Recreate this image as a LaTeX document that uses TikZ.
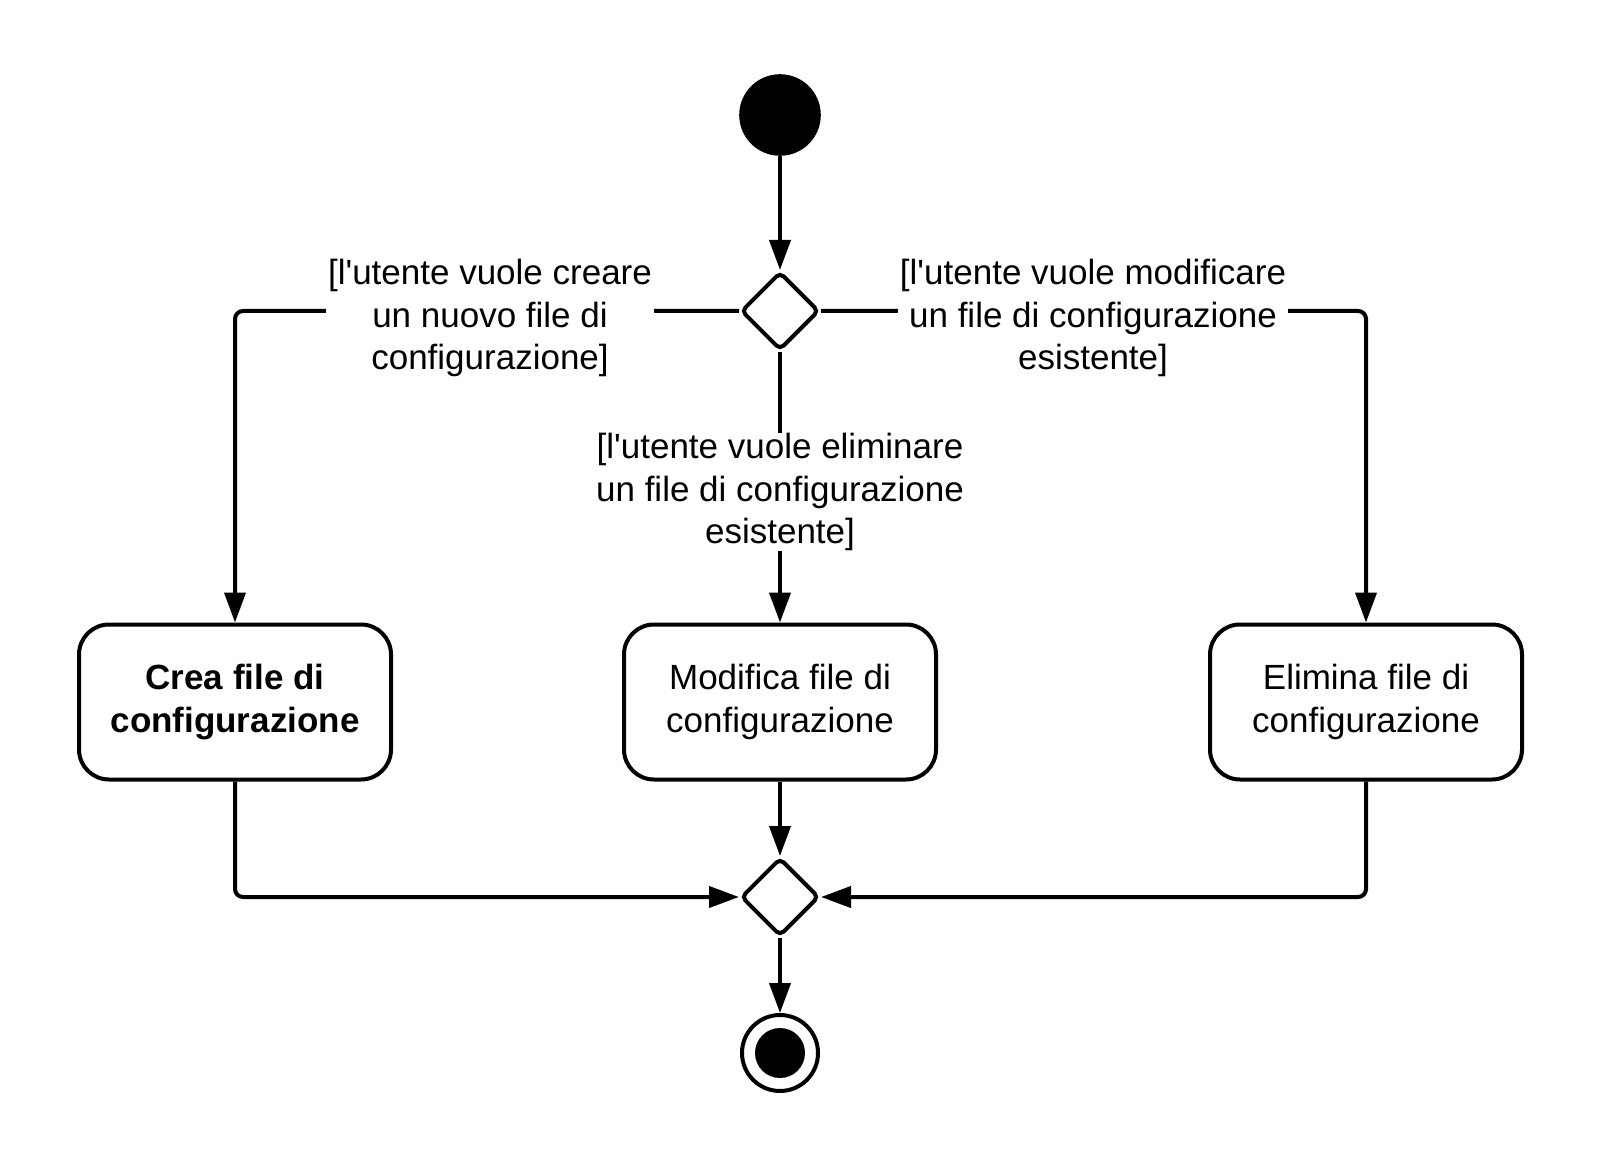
\documentclass[tikz,border=0pt]{standalone}
\usepackage{fontspec}
\setmainfont{Liberation Sans}
\usetikzlibrary{shapes.geometric}
\usetikzlibrary{positioning}
\usetikzlibrary{arrows.meta}

\begin{document}
\begin{tikzpicture}[x=0.5pt, y=-0.5pt]
	\tikzset{
		every node/.append style={font=\fontsize{17.5}{21.4}\selectfont},
		actnode/.style={rectangle, rounded corners=15pt, draw=black, line width=2pt, minimum width=156pt, minimum height=77.5pt, align=center},
		decnode/.style={diamond, rounded corners=2.5pt, draw=black, line width=2pt, fill=white, minimum size=39pt, inner sep=0pt},
		startnode/.style={circle, fill=black, minimum size=40.8pt, inner sep=0pt},
		endnode/.style={circle, draw=black, line width=2pt, minimum size=38pt, inner sep=0pt},
		endcore/.style={circle, fill=black, minimum size=25pt, inner sep=0pt},
		guardnode/.style={fill=white, align=center, inner xsep=1pt, inner ysep=0pt},
		flow/.style={-{Triangle[length=15pt, width=10.5pt]}, line width=2pt, rounded corners=4pt},
	}
	\useasboundingbox (0,0) rectangle (1600,1171);

	\node[startnode] (start) at (780,115) {};
	\node[decnode] (split) at (780,311) {};

	\node[actnode] (crea) at (235,702) {\textbf{Crea file di}\\\textbf{configurazione}};
	\node[actnode] (modifica) at (780,702) {Modifica file di\\configurazione};
	\node[actnode] (elimina) at (1366,702) {Elimina file di\\configurazione};

	\node[decnode] (merge) at (780,897) {};
	\node[endnode] (stop) at (780,1053) {};
	\node[endcore] (stopcore) at (stop) {};

	\draw[flow] (start) -- (split);
	\draw[flow] (split.west) -| (crea.north);
	\draw[flow] (split.south) -- (modifica.north);
	\draw[flow] (split.east) -| (elimina.north);

	\draw[flow] (crea.south) |- (merge.west);
	\draw[flow] (modifica.south) -- (merge.north);
	\draw[flow] (elimina.south) |- (merge.east);
	\draw[flow] (merge) -- (stop);

	% guards on the outgoing flows
	\node[guardnode] (gcrea) at (490,318) {[l\textquotesingle utente vuole creare\\un nuovo file di\\configurazione]};
	\node[guardnode] (gmodifica) at (1093,318) {[l\textquotesingle utente vuole modificare\\un file di configurazione\\esistente]};
	\node[guardnode] (gelimina) at (780,492) {[l\textquotesingle utente vuole eliminare\\un file di configurazione\\esistente]};
\end{tikzpicture}
\end{document}
